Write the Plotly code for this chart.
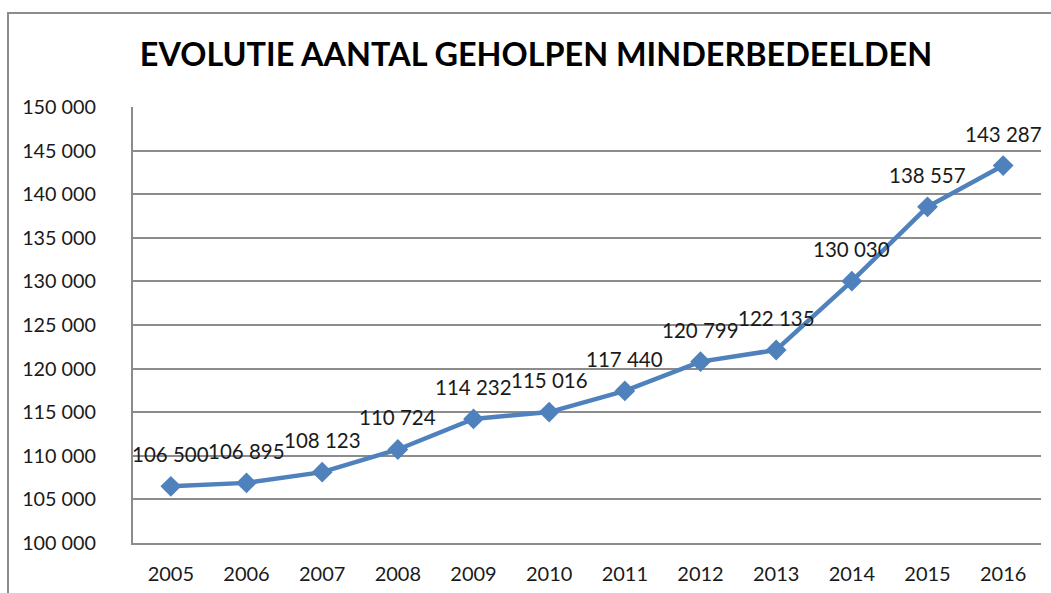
import plotly.graph_objects as go

years = ["2005", "2006", "2007", "2008", "2009", "2010", "2011", "2012", "2013", "2014", "2015", "2016"]
values = [106500, 106895, 108123, 110724, 114232, 115016, 117440, 120799, 122135, 130030, 138557, 143287]
title_text = "EVOLUTIE AANTAL GEHOLPEN MINDERBEDEELDEN"

def fmt(v):
    return f"{v:,}".replace(",", " ")

tickvals = list(range(100000, 150001, 5000))
ticktext = [fmt(v) for v in tickvals]

W, H = 1051, 593
L, R, T, B = 133, 10, 107, 50
pw = W - L - R
ph = H - T - B
FONT = "Lato"

fig = go.Figure()
fig.add_trace(go.Scatter(
    x=years, y=values, mode="lines+markers",
    line=dict(color="#4F81BD", width=4.5),
    marker=dict(symbol="diamond", size=16, color="#4F81BD"),
    cliponaxis=False, showlegend=False, hoverinfo="skip",
))

# category axis: annotation x given as category index
annotations = [dict(x=i, y=v, xref="x", yref="y", text=fmt(v), showarrow=False,
                    yshift=32, xanchor="center", yanchor="middle",
                    font=dict(family=FONT, size=20.5, color="#1a1a1a"))
               for i, v in enumerate(values)]

fig.update_layout(
    width=W, height=H,
    margin=dict(l=L, r=R, t=T, b=B, autoexpand=False),
    paper_bgcolor="white", plot_bgcolor="white",
    title=dict(text=f"<b>{title_text}</b>", x=(536 - L) / pw, xref="paper", xanchor="center",
               y=1 - 55 / H, yanchor="middle",
               font=dict(family=FONT, size=32.4, color="black")),
    xaxis=dict(type="category", range=[-0.5, len(years) - 0.5], showgrid=False,
               showline=True, linecolor="#8c8c8c", linewidth=2,
               ticks="", tickfont=dict(family=FONT, size=20, color="#1a1a1a"), ticklabelstandoff=12,
               automargin=False),
    yaxis=dict(range=[100000, 150000], tickvals=tickvals, ticktext=ticktext,
               showgrid=True, gridcolor="#8c8c8c", gridwidth=2,
               showline=True, linecolor="#8c8c8c", linewidth=2, ticks="",
               tickfont=dict(family=FONT, size=19.8, color="#1a1a1a"), ticklabelstandoff=31,
               zeroline=False, automargin=False),
    annotations=annotations,
    shapes=[dict(type="rect", xref="paper", yref="paper",
                 x0=(8 - L) / pw, x1=(1070 - L) / pw,
                 y0=(H - B - 620) / ph, y1=(H - B - 13) / ph,
                 line=dict(color="#8c8c8c", width=2), fillcolor="rgba(0,0,0,0)", layer="below")],
)

fig.write_html("out.html", config={"displayModeBar": False},
               post_script="document.body.style.margin='0';document.body.style.overflow='hidden';")
